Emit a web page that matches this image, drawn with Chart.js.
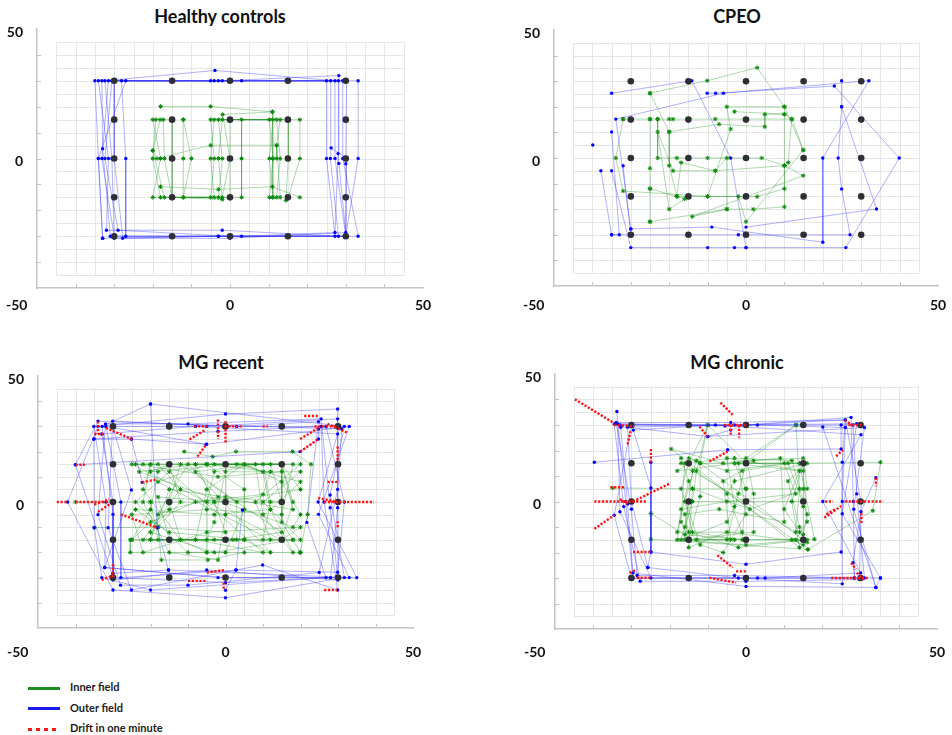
<!DOCTYPE html>
<html>
<head>
<meta charset="utf-8">
<script src="https://cdn.jsdelivr.net/npm/chart.js@4.4.1/dist/chart.umd.min.js"></script>
<style>
html, body { margin: 0; padding: 0; overflow: hidden; background: #fff; }
body { width: 952px; height: 735px; position: relative; font-family: Lato, "Open Sans", sans-serif; }
canvas { position: absolute; }
.title { position: absolute; transform: translate(-50%, -50%); font-weight: bold; font-size: 18px; color: #111; white-space: nowrap; }
.legend { position: absolute; left: 28px; top: 677px; font-size: 11px; font-weight: bold; color: #222; }
.legend .item { height: 20.5px; line-height: 20.5px; white-space: nowrap; }
.legend .swatch { display: inline-block; width: 32px; height: 3px; margin-right: 10px; vertical-align: middle; }
</style>
</head>
<body>
<div class="title" style="left:220px; top:16px">Healthy controls</div>
<div class="title" style="left:737px; top:16px">CPEO</div>
<div class="title" style="left:221px; top:362px">MG recent</div>
<div class="title" style="left:737px; top:362px">MG chronic</div>

<canvas id="hc"></canvas>
<canvas id="cpeo"></canvas>
<canvas id="mgRecent"></canvas>
<canvas id="mgChronic"></canvas>

<div class="legend">
  <div class="item"><span class="swatch" style="background:#1e8f1e"></span>Inner field</div>
  <div class="item"><span class="swatch" style="background:#1a1aee"></span>Outer field</div>
  <div class="item"><span class="swatch" style="background:repeating-linear-gradient(90deg,#f21a1a 0 4px,transparent 4px 8px)"></span>Drift in one minute</div>
</div>

<script>
// target grid shown in every panel
const targetCols = [-30, -15, 0, 15, 30];
const targetRows = [30, 15, 0, -15, -30];

// axis labelling
const axisLabels = [-50, 0, 50];
const gridLines = [-45, -40, -35, -30, -25, -20, -15, -10, -5, 0, 5, 10, 15, 20, 25, 30, 35, 40, 45];
const axisTicks = [-40, -30, -20, -10, 0, 10, 20, 30, 40];

// ---- Healthy controls ----
const hcOuter = [
  [-35, 30], [-34.1, 0], [-33, -30.8], [-3, -30], [27.2, -30], [25, 0], [25, 30], [-5, 30],
  [-34.1, 30], [-31.5, 0], [-32, -27.7], [-2, -27.7], [28.1, -30], [26, 0], [26.1, 30], [-4.1, 30],
  [-33.2, 30], [-33, 3.8], [-31, -30], [0, -30], [30, -30], [27.2, 0], [27.2, 30], [-3.9, 34],
  [-32.4, 30], [-30.6, 0], [-30, -30.8], [0, -30.8], [30, -28.6], [28.2, -1.9], [28.1, 30], [-3, 30],
  [-31.5, 30], [-33.2, 0], [-30, -30], [3, -30], [27.2, -28.6], [28, 1.9], [28.2, 32], [-2, 30],
  [-30.6, 30], [-32.4, 0], [-29, -27.7], [0, -30], [33.2, -30], [29.2, 0], [29.2, 30], [0, 30],
  [-30, 30], [-30, 0], [-27.8, -30.8], [-3, -30], [30, -30], [30, -2], [30.2, 30], [3, 30],
  [-28.1, 30], [-27, 0], [-27, -30], [0, -30], [30, -30], [33.2, 0], [33.2, 30], [0, 30],
  [-27, 30], [-34.1, 0], [-33, -30.8],
  null, [26.2, 4.1], [30.2, 0], [30, -30]
];
const hcInner = [
  [-20, 15], [-18, 0], [-20, -15], [-5, -15], [-4.1, 0], [-5, 15], [10.2, 15], [11.1, 0], [10.2, -15],
  [11.1, -15], [10.2, 0], [11.1, 15], [-4.1, 15], [-5, 0], [-4.1, -15], [-18, -15], [-20, 0], [-19.2, 15],
  [-18.1, 15], [-20, 3.1], [-17, -15], [-3, -15], [-2, 0], [-3, 15], [12.1, 15], [13, 0], [12.1, -15],
  [13, -15], [12.1, 5.1], [13, 15], [-2, 15], [-3, 0], [-2, -15.8], [-15, -15], [-17, 0], [-17.3, 15],
  [-15, 15], [-15, 0], [-15, -15], [0, -15], [0, 0], [0, 15], [15.1, 15], [15.1, 0], [14.5, -16.2],
  [15.1, -15], [18.1, 0], [18.1, 15], [3, 15], [3, 0], [3, -15], [-12.1, -15], [-12.1, 0], [-12.1, 15],
  [-12.1, 15], [-10, 0], [-12.1, -15], [-2, -15], [0, 0], [-1.9, 17], [11, 18], [11.1, 0], [11.1, -15],
  null, [-18, 20.1], [-5, 20.1], [11, 18],
  null, [-20, 3.1], [-18.9, 0], [-5, 5.1], [12.1, 5.1], [12.1, 0],
  null, [-18, -10.9], [-3, -11.9], [11, -10.9], [18.1, -15]
];

// ---- CPEO ----
const cpeoOuter = [
  [-35, 25.3], [-14.1, 30.2], [-4, 0], [0, -35], null,
  [-30, -27.7], [-33.9, 15.2], [-5.9, 25.3], [32, 30.2], [20, 0], [20, -32.9], [-8.9, -27], [-30, -27.7], null,
  [-10.1, 25.3], [-7.9, 25.3], [23, 28.1], [39.9, 0], [26, -35], [0, -35], [-3, -35], [-10, -35], [-30, -35], [-35, -5], null,
  [-35, 10.2], [-33, -30], [-35, -30], [-2, -30], [27.1, -30], [24.9, -12.1], [24, 0], [24.9, 20], [24.9, 30.2], null,
  [24.9, 20], [34, -19.9], [0, -27], null,
  [-37.8, -5], [-35, -30], null,
  [-32, -3], [-30, -30], null,
  [-39.9, 5.1]
];
const cpeoInner = [
  [-25, 25.3], [-10.1, 30.2], [2.9, 35.3], [10, 20], [14.9, 3.1], [0, -24.9], [-2, -15], [-10, -15], [-18, -15], [-25, -12], [-25, -4], [-25, 15.2], null,
  [-32, 15.2], [-33.9, 0], [-32, -12.9], [-10, -15], [2.9, -15.1], [10, -12], [10, -3], [11, -1.8], [11.9, 15.2], [-8, 15.2], [-19, 15.2], [-20, 15.2], [-23, 15.2], [-25, 15.2], [-32, 15.2], null,
  [-25, 25.3], [-20, 10.2], [-20, -3], [-18, -15], [-16, -16], [-20, -20], [-23, 10.2], [-19, -5], [-8, -5], [10, -3], [14.9, -6.9], [-14, -22.9], [-5, -20], [1.9, -20], [10, -19.1], [10, 20], [-5, 20], [-4, 11.3], [-10, -15], null,
  [-23, 15.2], [-23, 0], [-18, 0], [-10, 0], [4.1, 0], [10, -3], null,
  [-3, 18.1], [10, 17.1], [4.9, 17.1], [4.9, 12.2], [-7, 13.2], [-20, 10.2], null,
  [-25, -24.9], [-5, -20], [-5, 0], [-8, -5], [-16.9, -1.8], [-18, -15], null,
  [-25, -24.9], [-25, -12], null,
  [14.9, 3.1], [12, 15.2], [10, 17.1]
];

// ---- MG recent ----
const mgRecentOuter = [
  [-35.1, 30], [-31.9, 0], [-32.2, -26], [-2, -30], [30, -30], [29.9, 0], [29.9, 36.9], [0, 34.9],
  [-34, 30], [-42.1, 0], [-30, -34.9], [0, -38], [31.7, -30], [27.9, 2.8], [31.7, 30], [-20, 38.9],
  [-32.9, 30], [-30, -4.9], [-30, -28.3], [-15.2, -27], [33, -30], [24.8, -4.9], [33, 30], [-5.1, 22.9],
  [-31.9, 30], [-27.9, 0], [-27.9, -30], [2.8, -27], [29.9, -27.9], [31.7, 0], [26.8, 30], [0, 30],
  [-30.1, 32.1], [-31.3, -10.2], [-25.1, -34.9], [9.9, -25], [29.9, -34.9], [26.3, 0], [25.5, 30], [-2, 28],
  [-35.1, 25], [-35, -10.2], [-33, -30], [-20, -34.9], [26.8, -30], [21.7, -8.1], [24.8, 31.9], [3, 30],
  [-34, 32.1], [-40, 14.8], [-30, -30], [0, -32], [28, -30], [29.9, -2.3], [29.9, 33], [-5, 30],
  [-30.1, 30], [-25.1, 4.8], [-32.2, -26], [0, -30], [35, -30], [24.7, 0], [29.9, 27], [-8, 30],
  [-33, 27], [-30, 0], [-30, -31], [-5, -27], [30, -31], [27.9, -2.3], [25.5, 33], [-10, 31],
  [-32, 31], [-34, -5], [-28, -33], [-10, -33], [25, -28], [29.9, 5], [31, 29], [-15, 31],
  null, [-35.1, 25], [-25.1, 25], [-22.2, 7.8],
  null, [-20, 38.9], [-18.2, -10.2], [-15.2, -27],
  null, [-40, 14.8], [19.9, 20], [24.8, 25], [24.8, 29],
  null, [4.5, -3.2], [2.8, -27], [0, -35],
  null, [-5.1, 22.9], [-25.1, 25]
];
const mgRecentInner = [
  [-22, 15], [-3, 15], [12, 15], [15, 0], [-3, 0], [-20, 0], [-18, -15], [0, -15], [15, -15],
  [18, -20], [12, -3], [10, 12], [5, 15], [-5, 5], [-8, -15], [-25, -15], [-20, -3], [-18, 12],
  [-15, 15], [0, 15], [15, 15], [20, 5], [0, 0], [-18, 2], [-15, -15], [2, -15], [15, -12],
  [-12, 15], [-15, 0], [-12, -15], [-5, -20], [-5, 0], [-3, 12], [10, 15], [12, 0], [10, -15],
  [18, -15], [-3, -15], [-20, -15], [-15, 5], [0, 2], [15, 0], [15, 12], [-2, 10], [-24, 15],
  [-20, 15], [-22, 0], [-15, -20], [-2, -23], [0, -5], [0, 15], [20, 15], [8, 0], [12, -15],
  [-18, 8], [-5, 15], [18, 15], [15, -5], [-5, -3], [-25, -5], [-22, -20], [-5, -12], [20, -10],
  [15, -15], [18, 0], [15, 15], [-8, 15], [-3, 0], [0, -12], [-18, -10], [-12, 0], [-15, 15],
  [-20, 12], [3, 15], [20, 8], [12, -3], [-3, -5], [-24, -3], [-15, -12], [5, -15], [12, -20],
  [-10, 15], [-18, -5], [-20, -15], [3, -15], [3, 0], [-8, 12], [8, 15], [10, -5], [15, -15],
  [-25, 15], [-5, 15], [12, 12], [10, 3], [-8, 0], [-20, -8], [-25, -15], [-8, -15], [10, -20],
  [-15, 12], [-24, 0], [-10, -20], [0, -20], [5, -3], [5, 15], [15, 8], [20, -5], [18, -10],
  [-23, 12], [-8, 15], [15, 15], [18, -3], [-2, 2], [-15, -3], [-20, -12], [-3, -20], [18, -15],
  [20, -15], [10, 0], [20, 12], [0, 12], [-3, -8], [-5, -15], [-12, -15], [-22, 5], [-20, 15],
  [-18, 15], [-12, 5], [-22, -15], [5, -15], [5, 5], [-5, 15], [15, 15], [15, -8], [20, -20],
  null, [-40, 0], [-30, 0], [-20, 0],
  null, [-35, -10.2], [-18, -10], [-17.1, -23], [-4.7, -23], [5, -20],
  null, [-11, 20], [-3.4, 18], [2.8, 20], [17.9, 20], [22.8, 15], [21.9, -4.9], [19.9, -20],
  null, [-25.4, -15], [-25.4, -20], [-5, -20], [19.9, -20]
];
const mgRecentDrift = [
  [-34, 32, -34, 27], [-31.9, 29.4, -24.6, 24.7], [-35, 27, -32, 27], [-40, 14.8, -37.5, 14.8],
  [-45, 0, -42.1, 0], [-40, 0, -31.3, 0], [-35, -1, -31, 1], [-34, -4, -31, -1],
  [-27.9, -4.9, -18.2, -10.2], [-22.2, 7.8, -18.2, 9], [-30, -24.6, -30, -29.9], [-33, -31, -30, -29],
  [-10, -31.3, -5.1, -31.3], [-0.5, -32, -0.5, -35], [-9.6, 24.8, -5.6, 28.4], [-7.5, 18, -5.1, 22.9],
  [-8.4, 30, -4.6, 30], [-2, 32.7, -2, 25], [0, 32, 0, 23], [-5, -28, 0, -27],
  [21, 34.1, 24.6, 34.1], [-0.3, 30, 4.6, 30], [9.9, 30, 11.3, 30], [19.9, 25, 24.8, 29.4],
  [19.9, 20, 24.8, 25], [23.7, 30, 29.9, 30], [27.2, 31, 32.5, 27.5], [29.9, 22, 29.9, 16],
  [27.2, 8, 29.9, 8], [24.7, 1.6, 29.9, 0], [26.3, 0, 39.6, 0], [29.9, -7.6, 29.9, -10],
  [26.3, -34.9, 29.9, -34.9]
];

// ---- MG chronic ----
const mgChronicOuter = [
  [-33.8, 35.3], [-31.5, 0], [-29.6, -30], [0, -30], [28.4, -30], [28.1, 0], [27.5, 33], [0, 30],
  [-34.5, 30.4], [-32, -2], [-27.7, -31.3], [0, -31.3], [29.7, -30.6], [30.1, 0], [26, 32], [-5.5, 29.6],
  [-33.6, 30.4], [-33, -4], [-24.9, -30], [3, -30], [35.2, -30], [25.2, -4.8], [29, 30.5], [-3, 30],
  [-32.8, 29.1], [-31, -1], [-29.6, -28], [0, -33.3], [34, -33.7], [28.2, -3], [31, 29], [-10, 25.5],
  [-31, 29.1], [-30, 0], [-25.7, -25.9], [-2, -30], [25.2, -32.3], [25.2, 0], [26, 29], [3, 30],
  [-30, 30], [-34.5, -5.4], [-30, -30], [5, -30], [30, -28], [20.1, 0], [30.1, 26.2], [-8, 30],
  [-29.5, 28], [-24.9, 5.3], [-24.9, -19.8], [0, -24.6], [24.9, -19.8], [25.2, 15.4], [26, 32], [-4, 31],
  [-34, 31], [-30, -3], [-28.5, -29], [-3, -29], [31, -30], [29, 3], [28, 30], [-33, 30],
  null, [20.1, 29.2], [34, -33.7], [35.2, -30],
  null, [-39.7, 15.4], [-4.8, 20.3], [24.9, 20.6], [24.9, 30],
  null, [-24.9, 15.4], [-24.9, -19.8], [-25.7, -25.9],
  null, [34, 9.3], [30.1, -4], [28, -24], [28.4, -30],
  null, [-10, 25.5], [-4, 28], [0, 30]
];
const mgChronicInner = [
  [-17, 15], [-3, 17], [12, 16], [15, 0], [0, 0], [-15, 0], [-16, -15], [-3, -15], [12, -15],
  [15, -17], [15, -2], [15, 15], [0, 15], [-2, 3], [-5, -15], [-15, -15], [-12, 2], [-12, 15],
  [-15, 17], [-5, 12], [10, 15], [13, 3], [-5, 0], [-17, -3], [-18, -15], [0, -17], [15, -15],
  [-13, 16], [-16, 0], [-14, -12], [-1, -15], [0, 5], [-3, 15], [14, 12], [10, -3], [14, -12],
  [16, -16], [-5, -12], [-15, -18], [-14, 5], [1, -3], [16, 5], [15, 17], [2, 16], [-18, 12],
  [-15, 15], [-17, 5], [-12, -17], [-6, -20], [0, -5], [-2, 15], [15, 15], [12, 0], [14, -18],
  [-19.6, 20.6], [-6, 15], [9, 17], [10, -8], [-7, -3], [-16, -5], [-15, -12], [-2, -18], [16, -15],
  [13, -15], [16, -8], [15, 12], [-5, 17], [-3, -2], [-5, -8], [-17, -15], [-14, 0], [-13, 12],
  [-10, 30], [-12, 15], [14, 15], [17.9, -14.8], [0, -15], [-16, -13], [-24.9, -4.7], [-24.9, -14.8], [16.2, -18.8],
  [-16, 15], [-17, -8], [-15, -15], [2, -12], [2, 3], [0, 17], [13.1, 30], [14, 5], [13, -12],
  [-14, 12], [-16, -10], [-13, -15], [-4, -15], [-6, 8], [-1, 12], [11, 15], [16, -5], [15, -13],
  [14, -10], [11, 8], [16, 15], [-3, 8], [-5, 3], [-1, -12], [-18, -12], [-15, 8], [-17, 17],
  null, [-34.9, 5.3], [-14, 5], [0, 5], [15, 5],
  null, [15, 15], [35.2, 15.4], [33.2, -3.6], [16.2, -18.8],
  null, [13.1, 30], [0, 15.4], [-10, 30], [-15, 15]
];
const mgChronicDrift = [
  [-44.8, 40.1, -34.5, 30.7], [-34.5, 30, -29.3, 29.5], [-30.2, 27.6, -31, 22.4], [-24.9, 20.6, -24.9, 15.2],
  [-6.7, 38.8, -3.5, 34], [-12.2, 29.4, -10, 25.5], [-5.7, 30, 0, 30], [-4, 30, -4, 25.6],
  [-1.8, 30, -1.8, 25], [-9.6, 15.7, -4.8, 19.6], [-35.5, 5.6, -31.9, 5.6], [-39.7, 0, -26.2, 0],
  [-29.6, 0, -20, 7], [-39.7, -10.7, -34.5, -5.4], [-33, 1, -31, -1], [-29.6, -19.8, -24.9, -19.8],
  [-30.5, -28, -29, -27], [-28.6, -29.9, -24.9, -29.9], [-7.5, -21.1, -3.5, -25.9], [-9.6, -29.9, -2.6, -31.8],
  [-2.6, -27.4, 0, -27.4], [25.9, 32, 27.6, 30], [26.8, 30, 30.2, 30], [23.6, 17.7, 25.4, 20.3],
  [20.7, 0, 22.8, 0], [25.9, 0, 35.9, 0], [20.5, -6.4, 24.9, -1.8], [21, -5, 23.5, -3],
  [34, 9.3, 34, 6], [30.2, -4.6, 30.2, -9.1], [27.5, -24, 28.8, -26.6], [22.3, -30, 31.9, -30],
  [29, -28, 31, -31]
];

const panels = [
  { id: 'hc', box: [37, 29, 423, 288], xPad: 9, outer: hcOuter, inner: hcInner, drift: [] },
  { id: 'cpeo', box: [554, 30, 938, 286], xPad: 11, outer: cpeoOuter, inner: cpeoInner, drift: [] },
  { id: 'mgRecent', box: [38, 376, 413, 628], xPad: 16, outer: mgRecentOuter, inner: mgRecentInner, drift: mgRecentDrift },
  { id: 'mgChronic', box: [555, 374, 937, 629], xPad: 15, outer: mgChronicOuter, inner: mgChronicInner, drift: mgChronicDrift }
];

function toPoints(list) {
  return list.map(p => p ? { x: p[0], y: p[1] } : { x: null, y: null });
}

function driftPoints(segs) {
  const out = [];
  segs.forEach(s => {
    out.push({ x: s[0], y: s[1] }, { x: s[2], y: s[3] }, { x: null, y: null });
  });
  return out;
}

const targetPoints = [];
targetRows.forEach(y => targetCols.forEach(x => targetPoints.push({ x, y })));

// light squared paper behind the traces + small inward ticks on the axes
const paperGrid = {
  id: 'paperGrid',
  beforeDatasetsDraw(chart) {
    const { ctx, scales: { x, y } } = chart;
    const lo = gridLines[0], hi = gridLines[gridLines.length - 1];
    ctx.save();
    ctx.strokeStyle = '#e6e6e6';
    ctx.lineWidth = 1;
    ctx.beginPath();
    gridLines.forEach(v => {
      const px = Math.round(x.getPixelForValue(v)) + 0.5;
      ctx.moveTo(px, y.getPixelForValue(lo));
      ctx.lineTo(px, y.getPixelForValue(hi));
      const py = Math.round(y.getPixelForValue(v)) + 0.5;
      ctx.moveTo(x.getPixelForValue(lo), py);
      ctx.lineTo(x.getPixelForValue(hi), py);
    });
    ctx.stroke();

    ctx.strokeStyle = '#c4c4c4';
    ctx.beginPath();
    const bottom = chart.chartArea.bottom, left = chart.chartArea.left;
    axisTicks.forEach(v => {
      const px = Math.round(x.getPixelForValue(v)) + 0.5;
      ctx.moveTo(px, bottom);
      ctx.lineTo(px, bottom - 4);
      const py = Math.round(y.getPixelForValue(v)) + 0.5;
      ctx.moveTo(left, py);
      ctx.lineTo(left + 4, py);
    });
    ctx.stroke();
    ctx.restore();
  }
};

const tickFont = { family: 'Lato', weight: 'bold', size: 14 };
const PAD_TOP = 12, PAD_RIGHT = 12, Y_AXIS_W = 37, X_AXIS_H = 44;

function xLabel(v) {
  if (!axisLabels.includes(v)) return '';
  // the left corner label sits out to the left of the axis in the original
  return v === -50 ? '-50' + '\u2007'.repeat(5) : String(v);
}

function yLabel(v) {
  return (v === 50 || v === 0) ? String(v) : '';
}

panels.forEach(p => {
  const [l, t, r, b] = p.box;
  const canvas = document.getElementById(p.id);
  canvas.width = r - l + Y_AXIS_W + PAD_RIGHT;
  canvas.height = b - t + PAD_TOP + X_AXIS_H;
  canvas.style.left = (l - Y_AXIS_W) + 'px';
  canvas.style.top = (t - PAD_TOP) + 'px';

  new Chart(canvas, {
    type: 'scatter',
    data: {
      datasets: [
        {
          data: driftPoints(p.drift),
          showLine: true, spanGaps: false,
          borderColor: '#ff1414', borderWidth: 2.4, borderDash: [2.2, 1.6],
          pointRadius: 0
        },
        {
          data: targetPoints,
          pointRadius: 3.3, pointBackgroundColor: '#2e2e34', pointBorderWidth: 0
        },
        {
          data: toPoints(p.outer),
          showLine: true, spanGaps: false,
          borderColor: 'rgba(35,35,255,0.4)', borderWidth: 0.9,
          pointRadius: 1.7, pointBackgroundColor: '#0000ff', pointBorderWidth: 0
        },
        {
          data: toPoints(p.inner),
          showLine: true, spanGaps: false,
          borderColor: 'rgba(20,140,20,0.38)', borderWidth: 0.9,
          pointStyle: 'star', pointRadius: 2.2,
          pointBorderColor: '#0b8a0b', pointBorderWidth: 1
        }
      ]
    },
    options: {
      responsive: false,
      animation: false,
      events: [],
      layout: { padding: { top: PAD_TOP, right: PAD_RIGHT, left: 0, bottom: 0 } },
      plugins: { legend: { display: false }, tooltip: { enabled: false } },
      scales: {
        x: {
          type: 'linear', min: -50, max: 50,
          grid: { display: true, drawOnChartArea: false, drawTicks: false },
          border: { color: '#c4c4c4', width: 1.5 },
          ticks: { stepSize: 10, autoSkip: false, maxRotation: 0, padding: p.xPad, font: tickFont, color: '#111', callback: xLabel },
          afterFit: s => { s.height = X_AXIS_H; s.paddingLeft = 0; s.paddingRight = 0; }
        },
        y: {
          type: 'linear', min: -50, max: 50,
          grid: { display: true, drawOnChartArea: false, drawTicks: false },
          border: { color: '#c4c4c4', width: 1.5 },
          ticks: { stepSize: 10, autoSkip: false, padding: 14, labelOffset: 3, font: tickFont, color: '#111', callback: yLabel },
          afterFit: s => { s.width = Y_AXIS_W; s.paddingTop = 0; s.paddingBottom = 0; }
        }
      }
    },
    plugins: [paperGrid]
  });
});
</script>
</body>
</html>
